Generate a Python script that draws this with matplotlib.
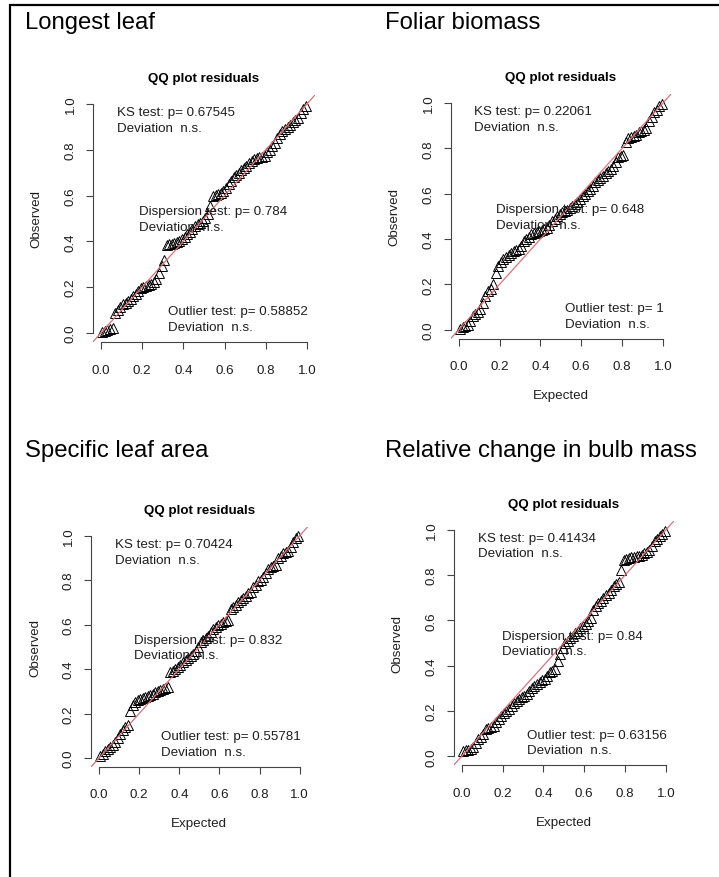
import matplotlib
matplotlib.use('Agg')
import matplotlib.pyplot as plt
from matplotlib.lines import Line2D

W, H = 719, 878
DPI = 100
plt.rcParams['font.family'] = ['Liberation Sans', 'DejaVu Sans']

# ---------------- data ----------------
expected = [0.006, 0.019, 0.031, 0.044, 0.056, 0.069, 0.081, 0.094, 0.106, 0.119,
            0.131, 0.144, 0.156, 0.169, 0.181, 0.194, 0.206, 0.219, 0.231, 0.244,
            0.256, 0.269, 0.281, 0.294, 0.306, 0.319, 0.331, 0.344, 0.356, 0.369,
            0.381, 0.394, 0.406, 0.419, 0.431, 0.444, 0.456, 0.469, 0.481, 0.494,
            0.506, 0.519, 0.531, 0.544, 0.556, 0.569, 0.581, 0.594, 0.606, 0.619,
            0.631, 0.644, 0.656, 0.669, 0.681, 0.694, 0.706, 0.719, 0.731, 0.744,
            0.756, 0.769, 0.781, 0.794, 0.806, 0.819, 0.831, 0.844, 0.856, 0.869,
            0.881, 0.894, 0.906, 0.919, 0.931, 0.944, 0.956, 0.969, 0.981, 0.994]

obs_longest_leaf = [0.004, 0.008, 0.012, 0.018, 0.022, 0.085, 0.100, 0.115, 0.125, 0.130,
                    0.140, 0.150, 0.160, 0.170, 0.185, 0.195, 0.200, 0.205, 0.210, 0.215,
                    0.220, 0.235, 0.260, 0.290, 0.320, 0.385, 0.388, 0.390, 0.392, 0.395,
                    0.400, 0.410, 0.420, 0.430, 0.440, 0.455, 0.465, 0.475, 0.480, 0.490,
                    0.500, 0.520, 0.555, 0.600, 0.602, 0.605, 0.610, 0.620, 0.635, 0.650,
                    0.665, 0.680, 0.690, 0.700, 0.710, 0.720, 0.730, 0.740, 0.750, 0.760,
                    0.765, 0.768, 0.770, 0.772, 0.790, 0.800, 0.815, 0.830, 0.850, 0.870,
                    0.880, 0.890, 0.900, 0.910, 0.920, 0.930, 0.940, 0.960, 0.980, 0.990]

obs_foliar_biomass = [0.005, 0.010, 0.015, 0.020, 0.040, 0.060, 0.070, 0.080, 0.090, 0.120,
                      0.150, 0.170, 0.180, 0.200, 0.250, 0.280, 0.300, 0.310, 0.320, 0.330,
                      0.340, 0.345, 0.350, 0.355, 0.370, 0.390, 0.400, 0.410, 0.420, 0.425,
                      0.430, 0.435, 0.440, 0.445, 0.450, 0.460, 0.480, 0.490, 0.500, 0.510,
                      0.520, 0.525, 0.530, 0.535, 0.545, 0.555, 0.565, 0.575, 0.590, 0.600,
                      0.610, 0.620, 0.635, 0.650, 0.660, 0.670, 0.680, 0.690, 0.700, 0.710,
                      0.720, 0.740, 0.760, 0.765, 0.770, 0.830, 0.845, 0.850, 0.855, 0.860,
                      0.870, 0.875, 0.880, 0.890, 0.920, 0.940, 0.960, 0.970, 0.985, 0.995]

obs_specific_leaf_area = [0.010, 0.020, 0.030, 0.040, 0.050, 0.060, 0.070, 0.090, 0.110, 0.125,
                          0.140, 0.150, 0.210, 0.240, 0.250, 0.260, 0.265, 0.270, 0.275, 0.280,
                          0.285, 0.290, 0.295, 0.300, 0.305, 0.310, 0.315, 0.320, 0.385, 0.390,
                          0.400, 0.410, 0.420, 0.430, 0.440, 0.450, 0.460, 0.470, 0.480, 0.500,
                          0.520, 0.530, 0.540, 0.550, 0.565, 0.580, 0.590, 0.600, 0.605, 0.610,
                          0.615, 0.620, 0.670, 0.680, 0.690, 0.700, 0.710, 0.720, 0.730, 0.740,
                          0.745, 0.770, 0.780, 0.795, 0.800, 0.815, 0.830, 0.850, 0.860, 0.865,
                          0.870, 0.900, 0.910, 0.920, 0.925, 0.930, 0.950, 0.970, 0.990, 1.000]

obs_bulb_mass_change = [0.025, 0.027, 0.030, 0.032, 0.040, 0.060, 0.075, 0.085, 0.100, 0.120,
                        0.125, 0.130, 0.135, 0.150, 0.165, 0.180, 0.190, 0.200, 0.210, 0.220,
                        0.235, 0.245, 0.255, 0.260, 0.265, 0.275, 0.290, 0.300, 0.310, 0.320,
                        0.330, 0.335, 0.340, 0.355, 0.370, 0.375, 0.385, 0.420, 0.450, 0.480,
                        0.500, 0.510, 0.520, 0.530, 0.545, 0.555, 0.565, 0.575, 0.585, 0.595,
                        0.610, 0.645, 0.665, 0.675, 0.685, 0.700, 0.710, 0.720, 0.735, 0.750,
                        0.760, 0.770, 0.820, 0.865, 0.870, 0.875, 0.878, 0.880, 0.883, 0.885,
                        0.890, 0.895, 0.900, 0.910, 0.930, 0.950, 0.960, 0.970, 0.980, 0.995]

panel_titles = ['Longest leaf', 'Foliar biomass', 'Specific leaf area', 'Relative change in bulb mass']
observed = [obs_longest_leaf, obs_foliar_biomass, obs_specific_leaf_area, obs_bulb_mass_change]
ks_p = ['0.67545', '0.22061', '0.70424', '0.41434']
disp_p = ['0.784', '0.648', '0.832', '0.84']
outlier_p = ['0.58852', '1', '0.55781', '0.63156']
show_xlabel = [False, True, True, True]
tick_values = [0.0, 0.2, 0.4, 0.6, 0.8, 1.0]
tick_labels = ['0.0', '0.2', '0.4', '0.6', '0.8', '1.0']

# ---------------- layout (pixels) ----------------
axes_px = [(92.8, 95.8, 315.2, 343.0),
           (450.5, 94.9, 671.2, 339.8),
           (91.0, 527.8, 307.7, 767.9),
           (453.5, 521.6, 674.2, 766.4)]
title_px = [(25, 29.3), (385, 29.3), (25, 457.0), (385, 457.0)]

PT = 72.0 / DPI  # points per pixel
FS = 9.6
AX_COL = '#444444'
TXT_COL = '#1e1e1e'
LS = 1.38

fig = plt.figure(figsize=(W / DPI, H / DPI), dpi=DPI)
fig.patch.set_facecolor('white')

# outer frame lines (left and top)
fig.add_artist(Line2D([10 / W, 10 / W], [1 - 5 / H, 0], color='black', lw=2.2 * PT,
                      transform=fig.transFigure, solid_capstyle='butt'))
fig.add_artist(Line2D([9 / W, 1], [1 - 6 / H, 1 - 6 / H], color='black', lw=2.2 * PT,
                      transform=fig.transFigure, solid_capstyle='butt'))

for i in range(4):
    l, t, r, b = axes_px[i]
    ax = fig.add_axes([l / W, 1 - b / H, (r - l) / W, (b - t) / H])
    ax.set_xlim(-0.04, 1.04)
    ax.set_ylim(-0.04, 1.04)
    ax.set_facecolor('none')
    for s in ['top', 'right']:
        ax.spines[s].set_visible(False)
    for s in ['left', 'bottom']:
        ax.spines[s].set_bounds(0, 1)
        ax.spines[s].set_color(AX_COL)
        ax.spines[s].set_linewidth(0.8)
    ax.set_xticks(tick_values)
    ax.set_xticklabels(tick_labels)
    ax.set_yticks(tick_values)
    ax.set_yticklabels(tick_labels, rotation=90, va='center')
    ax.tick_params(axis='both', length=7 * PT, width=0.8, color=AX_COL, labelcolor=TXT_COL,
                   labelsize=FS)
    ax.tick_params(axis='x', pad=10.5)
    ax.tick_params(axis='y', pad=6.5)

    ax.plot(expected, observed[i], linestyle='none', marker='^', markersize=7.0,
            markerfacecolor='none', markeredgecolor='black', markeredgewidth=0.7, zorder=2)
    ax.axline((0, 0), slope=1, color='#E0707A', lw=0.9, zorder=3)

    # titles / labels
    ax.annotate('QQ plot residuals', xy=(0.5, 1), xycoords='axes fraction',
                xytext=(0, 16.5 * PT), textcoords='offset points', ha='center', va='center',
                fontsize=FS, fontweight='bold', color='black')
    ax.annotate('Observed', xy=(0, 0.5), xycoords='axes fraction',
                xytext=(-56 * PT, 0), textcoords='offset points', ha='center', va='center',
                rotation=90, fontsize=FS, color=TXT_COL)
    if show_xlabel[i]:
        ax.annotate('Expected', xy=(0.5, 0), xycoords='axes fraction',
                    xytext=(0, -56.5 * PT), textcoords='offset points', ha='center', va='center',
                    fontsize=FS, color=TXT_COL)

    # test legends
    ax.annotate('KS test: p= ' + ks_p[i] + '\nDeviation  n.s.', xy=(0, 1), xycoords='axes fraction',
                xytext=(24 * PT, -25 * PT), textcoords='offset points', ha='left', va='center',
                multialignment='left', linespacing=LS, fontsize=FS, color=TXT_COL, zorder=4)
    ax.annotate('Dispersion test: p= ' + disp_p[i] + '\nDeviation  n.s.', xy=(0.5, 0.5),
                xycoords='axes fraction', xytext=(9 * PT, -0.7 * PT), textcoords='offset points',
                ha='center', va='center', multialignment='left', linespacing=LS,
                fontsize=FS, color=TXT_COL, zorder=4)
    ax.annotate('Outlier test: p= ' + outlier_p[i] + '\nDeviation  n.s.', xy=(1, 0),
                xycoords='axes fraction', xytext=(-7 * PT, 23 * PT), textcoords='offset points',
                ha='right', va='center', multialignment='left', linespacing=LS,
                fontsize=FS, color=TXT_COL, zorder=4)

    tx, ty = title_px[i]
    fig.text(tx / W, 1 - ty / H, panel_titles[i], ha='left', va='baseline', fontsize=17.2,
             color='black')

fig.savefig('out.png', dpi=DPI, facecolor='white')
